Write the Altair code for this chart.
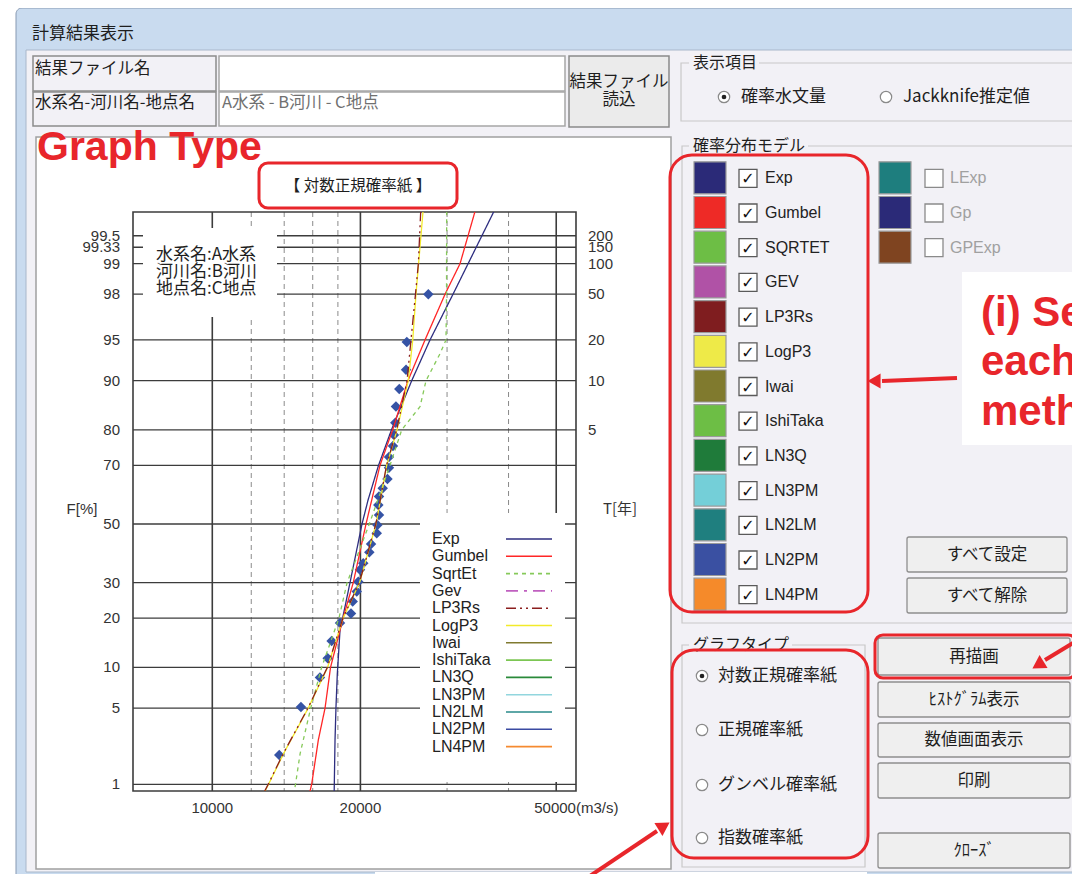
import altair as alt
import pandas as pd
from statistics import NormalDist

# ---------------- chart data ----------------
F_ticks = [99.5, 99.33, 99, 98, 95, 90, 80, 70, 50, 30, 20, 10, 5, 1]
F_labels = ["99.5", "99.33", "99", "98", "95", "90", "80", "70", "50", "30", "20", "10", "5", "1"]
T_ticks_F = [99.5, 99.33, 99, 98, 95, 90, 80]
T_labels = ["200", "150", "100", "50", "20", "10", "5"]
Q_major = [10000, 20000, 50000]
Q_minor = [12000, 14000, 16000, 18000, 30000, 40000]
Q_label_vals = [10000, 20000]
Q_label_text = ["10000", "20000"]

obs_Q = [27480, 24850, 24760, 23990, 23620, 23550, 23400, 23290, 22860, 22860, 22700,
         22200, 21820, 21750, 21820, 21650, 21590, 21020, 20850, 20270, 19960, 19800,
         19660, 19290, 19140, 18180, 17480, 17160, 16550, 15140, 13680]
obs_F = [98.0, 94.8, 91.6, 88.6, 85.3, 81.7, 78.7, 75.7, 72.5, 69.2, 65.6, 62.5, 59.7,
         56.7, 53.2, 49.6, 46.7, 42.9, 40.0, 36.3, 34.1, 30.3, 27.3, 24.4, 21.2, 18.8,
         14.8, 11.5, 8.5, 5.1, 1.95]

exp_F = [99.74, 98, 95, 90, 80, 70, 58.5, 50, 30, 20, 17.2, 9.0, 5.1, 2.7, 0.85]
exp_Q = [37370, 30850, 27700, 25430, 23130, 21770, 20730, 20150, 19050, 18400, 18180,
         17950, 17840, 17760, 17690]
gum_F = [99.74, 99, 98, 95, 90, 80, 70, 50, 30, 20, 10, 5, 2.7, 1, 0.85]
gum_Q = [34200, 31880, 29720, 27060, 24990, 23260, 21920, 20530, 19340, 18440, 17390,
         16950, 16430, 15920, 15800]
sqe_F = [99.74, 99, 98, 95, 93.6, 90, 85.3, 80, 70, 50, 30, 20, 10, 5, 2, 1, 0.85]
sqe_Q = [29950, 29930, 29930, 29850, 29030, 27190, 26440, 24270, 22970, 20850, 18790,
         18090, 16680, 15850, 15080, 14760, 14680]
lp3_F = [99.74, 98, 95, 90, 80, 70, 50, 30, 20, 10, 5, 2, 1, 0.85]
lp3_Q = [26810, 25940, 25550, 25020, 23740, 22620, 21520, 19920, 18440, 17150, 15670,
         13950, 13010, 12800]
lp3rs_F = [99.74, 99, 98, 95, 90, 80, 70, 50, 30, 20, 10, 5, 2, 1, 0.85]
lp3rs_Q = [26520, 26230, 25880, 25340, 24880, 23700, 22600, 21500, 19900, 18430, 17130,
           15650, 13930, 12990, 12780]

legend_models = ["Exp", "Gumbel", "SqrtEt", "Gev", "LP3Rs", "LogP3", "Iwai", "IshiTaka",
                 "LN3Q", "LN3PM", "LN2LM", "LN2PM", "LN4PM"]
legend_colors = ["#2E2E80", "#FF2626", "#86C95A", "#C060C0", "#8B1E1E", "#F2EA2A",
                 "#807A30", "#7CC653", "#2A8A3A", "#92D6DE", "#2A8A8A", "#3A4AA2", "#F58A30"]
legend_dashes = [[1, 0], [1, 0], [4, 4], [12, 6, 3, 6], [10, 4, 2, 4, 2, 4], [1, 0], [1, 0],
                 [1, 0], [1, 0], [1, 0], [1, 0], [1, 0], [1, 0]]

panel_models = ["Exp", "Gumbel", "SQRTET", "GEV", "LP3Rs", "LogP3", "Iwai", "IshiTaka",
                "LN3Q", "LN3PM", "LN2LM", "LN2PM", "LN4PM"]
panel_colors = ["#2B2A78", "#EE2A26", "#6DBE45", "#B052A6", "#7F1D1F", "#EEEA48",
                "#807A2E", "#6DBE45", "#1F7B3A", "#74CFD8", "#1F7F7F", "#3A50A2", "#F58A2A"]
extra_models = ["LExp", "Gp", "GPExp"]
extra_colors = ["#1E7E7E", "#2B2A78", "#7F4420"]
graph_types = ["対数正規確率紙", "正規確率紙", "グンベル確率紙", "指数確率紙"]
side_buttons = ["再描画", "ﾋｽﾄｸﾞﾗﾑ表示", "数値画面表示", "印刷", "ｸﾛｰｽﾞ"]
info_lines = ["水系名:A水系", "河川名:B河川", "地点名:C地点"]

# ---------------- helpers ----------------
RED = "#E8262B"
DLG = "#F2F1F6"
JP = "Noto Sans CJK JP"
LAT = "Liberation Sans"
OX, OY = 133, 212  # page position of the plot area's origin


def zf(F):
    return NormalDist().inv_cdf(F / 100.0)


def boxes(rows, radius=0):
    df = pd.DataFrame([{"x0": r[0] - OX, "y0": r[1] - OY, "x1": r[2] - OX, "y1": r[3] - OY,
                        "fill": r[4], "stroke": r[5], "sw": r[6]} for r in rows])
    return alt.Chart(df).mark_rect(cornerRadius=radius).encode(
        x=alt.X("x0:Q", scale=None, axis=None), x2="x1:Q",
        y=alt.Y("y0:Q", scale=None, axis=None), y2="y1:Q",
        fill=alt.Fill("fill:N", scale=None, legend=None),
        stroke=alt.Stroke("stroke:N", scale=None, legend=None),
        strokeWidth=alt.StrokeWidth("sw:Q", scale=None, legend=None))


def texts(rows, size, color="#1E1E1E", font=JP, align="left", weight="normal",
          baseline="middle"):
    df = pd.DataFrame([{"x": r[0] - OX, "y": r[1] - OY, "t": r[2]} for r in rows])
    return alt.Chart(df).mark_text(font=font, fontSize=size, color=color, align=align,
                                   baseline=baseline, fontWeight=weight).encode(
        x=alt.X("x:Q", scale=None, axis=None), y=alt.Y("y:Q", scale=None, axis=None),
        text="t:N")


def segs(rows, color, width):
    df = pd.DataFrame([{"x0": r[0] - OX, "y0": r[1] - OY, "x1": r[2] - OX, "y1": r[3] - OY}
                       for r in rows])
    return alt.Chart(df).mark_rule(color=color, strokeWidth=width).encode(
        x=alt.X("x0:Q", scale=None, axis=None), x2="x1:Q",
        y=alt.Y("y0:Q", scale=None, axis=None), y2="y1:Q")


def symbols(rows, shape, size, fill, stroke, sw=1.0, angle=0):
    df = pd.DataFrame([{"x": r[0] - OX, "y": r[1] - OY} for r in rows])
    return alt.Chart(df).mark_point(shape=shape, size=size, filled=True, color=fill,
                                    stroke=stroke, strokeWidth=sw, opacity=1,
                                    angle=angle).encode(
        x=alt.X("x:Q", scale=None, axis=None), y=alt.Y("y:Q", scale=None, axis=None))


# ---------------- main plot ----------------
xscale = alt.Scale(type="log", domain=[6900, 54850], nice=False, zero=False)
yscale = alt.Scale(domain=[-2.386, 2.788], nice=False, zero=False)
cscale = alt.Scale(domain=legend_models, range=legend_colors)
dscale = alt.Scale(domain=legend_models, range=legend_dashes)

ticks_df = pd.DataFrame({"F": F_ticks, "label": F_labels})
ticks_df["z"] = ticks_df["F"].map(zf)
t_df = pd.DataFrame({"F": T_ticks_F, "label": T_labels})
t_df["z"] = t_df["F"].map(zf)

curves = []
for name, Fs, Qs in [("Exp", exp_F, exp_Q), ("Gumbel", gum_F, gum_Q),
                     ("SqrtEt", sqe_F, sqe_Q), ("LogP3", lp3_F, lp3_Q),
                     ("LP3Rs", lp3rs_F, lp3rs_Q)]:
    d = pd.DataFrame({"F": Fs, "Q": Qs})
    d["model"] = name
    d["ord"] = range(len(d))
    curves.append(d)
curve_df = pd.concat(curves, ignore_index=True)
curve_df["z"] = curve_df["F"].map(zf)

obs_df = pd.DataFrame({"Q": obs_Q, "F": obs_F})
obs_df["z"] = obs_df["F"].map(zf)

leg_df = pd.DataFrame({"model": legend_models})
leg_df["ly"] = [(539 - OY) + 17.3 * i for i in range(len(legend_models))]

grid_h = alt.Chart(ticks_df).mark_rule(color="#3C3C3C", strokeWidth=1.3).encode(
    y=alt.Y("z:Q", scale=yscale, axis=None))
grid_vmaj = alt.Chart(pd.DataFrame({"Q": Q_major})).mark_rule(
    color="#3C3C3C", strokeWidth=1.6).encode(x=alt.X("Q:Q", scale=xscale, axis=None))
grid_vmin = alt.Chart(pd.DataFrame({"Q": Q_minor})).mark_rule(
    color="#8A8A8A", strokeWidth=1, strokeDash=[5, 4]).encode(
    x=alt.X("Q:Q", scale=xscale, axis=None))

pts = alt.Chart(obs_df).mark_point(shape="diamond", filled=True, size=110,
                                   color="#3553A5", opacity=1).encode(
    x=alt.X("Q:Q", scale=xscale, axis=None), y=alt.Y("z:Q", scale=yscale, axis=None))

lines_layer = alt.Chart(curve_df).mark_line(strokeWidth=1.3, clip=True).encode(
    x=alt.X("Q:Q", scale=xscale, axis=None), y=alt.Y("z:Q", scale=yscale, axis=None),
    color=alt.Color("model:N", scale=cscale, legend=None),
    strokeDash=alt.StrokeDash("model:N", scale=dscale, legend=None),
    order=alt.Order("ord:Q"))

ylab = alt.Chart(ticks_df).mark_text(align="right", baseline="middle", font=LAT,
                                     fontSize=15, color="#333").encode(
    x=alt.value(-13), y=alt.Y("z:Q", scale=yscale, axis=None), text="label:N")
tlab = alt.Chart(t_df).mark_text(align="left", baseline="middle", font=LAT,
                                 fontSize=15, color="#333").encode(
    x=alt.value(455), y=alt.Y("z:Q", scale=yscale, axis=None), text="label:N")
xlab = alt.Chart(pd.DataFrame({"Q": Q_label_vals, "label": Q_label_text})).mark_text(
    align="center", baseline="middle", font=LAT, fontSize=15, color="#333").encode(
    x=alt.X("Q:Q", scale=xscale, axis=None), y=alt.value(596), text="label:N")
xlab2 = alt.Chart(pd.DataFrame({"Q": [50000], "label": ["50000(m3/s)"]})).mark_text(
    align="left", baseline="middle", font=LAT, fontSize=15, color="#333", dx=-22).encode(
    x=alt.X("Q:Q", scale=xscale, axis=None), y=alt.value(596), text="label:N")

leg_text = alt.Chart(leg_df).mark_text(align="left", baseline="middle", font=LAT,
                                       fontSize=16, color="#222").encode(
    x=alt.value(432 - OX), y=alt.Y("ly:Q", scale=None, axis=None), text="model:N")
leg_line = alt.Chart(leg_df).mark_rule(strokeWidth=1.6).encode(
    x=alt.value(506 - OX), x2=alt.value(552 - OX),
    y=alt.Y("ly:Q", scale=None, axis=None),
    color=alt.Color("model:N", scale=cscale, legend=None),
    strokeDash=alt.StrokeDash("model:N", scale=dscale, legend=None))

# ---------------- layout ----------------
layers = []
# window
layers.append(boxes([(16, 8, 1090, 890, "#C9DBEF", "#8799B2", 1)], radius=6))
layers.append(boxes([(26, 50, 1090, 872, DLG, "#A8B7CA", 1)]))
layers.append(boxes([(375, 872, 867, 890, "white", "white", 0)]))
layers.append(texts([(32, 34, "計算結果表示")], 17))
# top fields
layers.append(boxes([(33, 56, 216, 91, DLG, "#8C8C8C", 1.5), (33, 92, 216, 126, DLG, "#8C8C8C", 1.5),
                     (219, 56, 565, 91, "white", "#A6A6A6", 1.5),
                     (219, 92, 565, 126, "white", "#A6A6A6", 1.5),
                     (569, 56, 669, 127, "#EBEBEB", "#8A8A8A", 1.5)]))
layers.append(texts([(35, 69, "結果ファイル名"), (35, 103, "水系名-河川名-地点名")], 16.5))
layers.append(texts([(222, 103, "A水系 - B河川 - C地点")], 16.5, color="#707070"))
layers.append(texts([(619, 82, "結果ファイル"), (619, 100, "読込")], 16.5, align="center"))
# graph panel
layers.append(boxes([(36, 137, 671, 869, "white", "#A0A0A0", 1.5)]))
layers += [grid_vmin, grid_vmaj, grid_h]
layers.append(boxes([(143, 228, 277, 317, "white", "white", 0),
                     (420, 513, 565, 782, "white", "white", 0)]))
layers.append(boxes([(133, 212, 576, 791, "transparent", "#3C3C3C", 1.6)]))
layers += [pts, lines_layer, ylab, tlab, xlab, xlab2, leg_line, leg_text]
layers.append(texts([(156, 255 + 17 * i, s) for i, s in enumerate(info_lines)], 17))
layers.append(texts([(82, 509, "F[%]")], 15, font=LAT, align="center", color="#333"))
layers.append(texts([(603, 509, "T[年]")], 15, font=JP, color="#333"))
layers.append(texts([(358, 186, "【 対数正規確率紙 】")], 15.5, align="center"))
layers.append(boxes([(259, 163, 457, 208, "transparent", RED, 3)], radius=9))
layers.append(texts([(37, 160, "Graph Type")], 41, color=RED, font=LAT, weight="bold",
                    baseline="alphabetic"))

# right side group boxes
layers.append(boxes([(681, 63, 1090, 121, "transparent", "#C8C8C8", 1.2),
                     (682, 146, 1074, 623, "transparent", "#C8C8C8", 1.2),
                     (682, 645, 865, 867, "transparent", "#C8C8C8", 1.2)]))
layers.append(boxes([(689, 55, 759, 71, DLG, DLG, 0), (689, 138, 808, 154, DLG, DLG, 0),
                     (689, 637, 792, 653, DLG, DLG, 0)]))
layers.append(texts([(693, 63, "表示項目"), (693, 146, "確率分布モデル"),
                     (693, 645, "グラフタイプ")], 16))
# radios
radio_y = [676, 730, 785, 838]
layers.append(symbols([(724, 97), (886, 97)] + [(702, y) for y in radio_y], "circle", 130,
                      "white", "#8A8A8A", 1.2))
layers.append(symbols([(724, 97), (702, radio_y[0])], "circle", 22, "#222", "#222", 0))
layers.append(texts([(741, 97, "確率水文量"), (903, 97, "Jackknife推定値")], 17))
layers.append(texts([(718, y, s) for y, s in zip(radio_y, graph_types)], 17))

# model swatches
row_c = [178.3 + 34.7 * i for i in range(len(panel_models))]
layers.append(boxes([(694, c - 16.5, 726, c + 15.5, col, "#9A9A9A", 1.2)
                     for c, col in zip(row_c, panel_colors)]))
layers.append(boxes([(879, c - 16.5, 911, c + 15.5, col, "#9A9A9A", 1.2)
                     for c, col in zip(row_c, extra_colors)]))
layers.append(boxes([(739, c - 9, 757, c + 9, "white", "#5A5A5A", 1.3) for c in row_c]))
layers.append(boxes([(925, c - 9, 943, c + 9, "white", "#8A8A8A", 1.3)
                     for c in row_c[:len(extra_models)]]))
layers.append(texts([(748, c + 1, "✓") for c in row_c], 16, color="#111",
                    font="DejaVu Sans", align="center", weight="bold"))
layers.append(texts([(765, c, s) for c, s in zip(row_c, panel_models)], 16, font=LAT,
                    color="#222"))
layers.append(texts([(950, c, s) for c, s in zip(row_c, extra_models)], 16, font=LAT,
                    color="#A0A0A0"))

# buttons
btn_rows = [(907, 537, 1067, 572, "すべて設定"), (907, 578, 1067, 613, "すべて解除")]
btn_y = [(638, 675), (682, 717), (723, 757), (763, 798), (833, 868)]
btn_rows += [(878, a, 1070, b, s) for (a, b), s in zip(btn_y, side_buttons)]
layers.append(boxes([(r[0], r[1], r[2], r[3], "#EFEFEF", "#8E8E8E", 1.3) for r in btn_rows],
                    radius=2))
layers.append(texts([((r[0] + r[2]) / 2, (r[1] + r[3]) / 2, r[4]) for r in btn_rows], 16.5,
                    align="center"))

# red highlight boxes
layers.append(boxes([(670, 155, 868, 612, "transparent", RED, 3),
                     (672, 650, 868, 858, "transparent", RED, 3)], radius=22))
layers.append(boxes([(875, 635, 1076, 678, "transparent", RED, 3)], radius=8))

# annotation text box
layers.append(boxes([(962, 272, 1090, 445, "white", "white", 0)]))
layers.append(texts([(981, 326, "(i) Se"), (981, 375, "each"), (981, 425, "meth")], 42,
                    color=RED, font=LAT, weight="bold", baseline="alphabetic"))

# arrows
layers.append(segs([(957, 378, 882, 381), (1086, 635, 1045, 660), (575, 886, 657, 831)],
                   RED, 4))
layers.append(symbols([(874, 381)], "triangle-left", 230, RED, RED, 0))
layers.append(symbols([(1038, 665)], "triangle-up", 230, RED, RED, 0, angle=238))
layers.append(symbols([(664, 826)], "triangle-up", 230, RED, RED, 0, angle=58))

chart = alt.layer(*layers).properties(
    width=443, height=579,
    padding={"left": 125, "top": 204, "right": 496, "bottom": 83},
    autosize=alt.AutoSizeParams(type="none"),
    background="white",
).configure_view(strokeWidth=0)

chart.save("out.html", embed_options={"renderer": "svg", "actions": False})
